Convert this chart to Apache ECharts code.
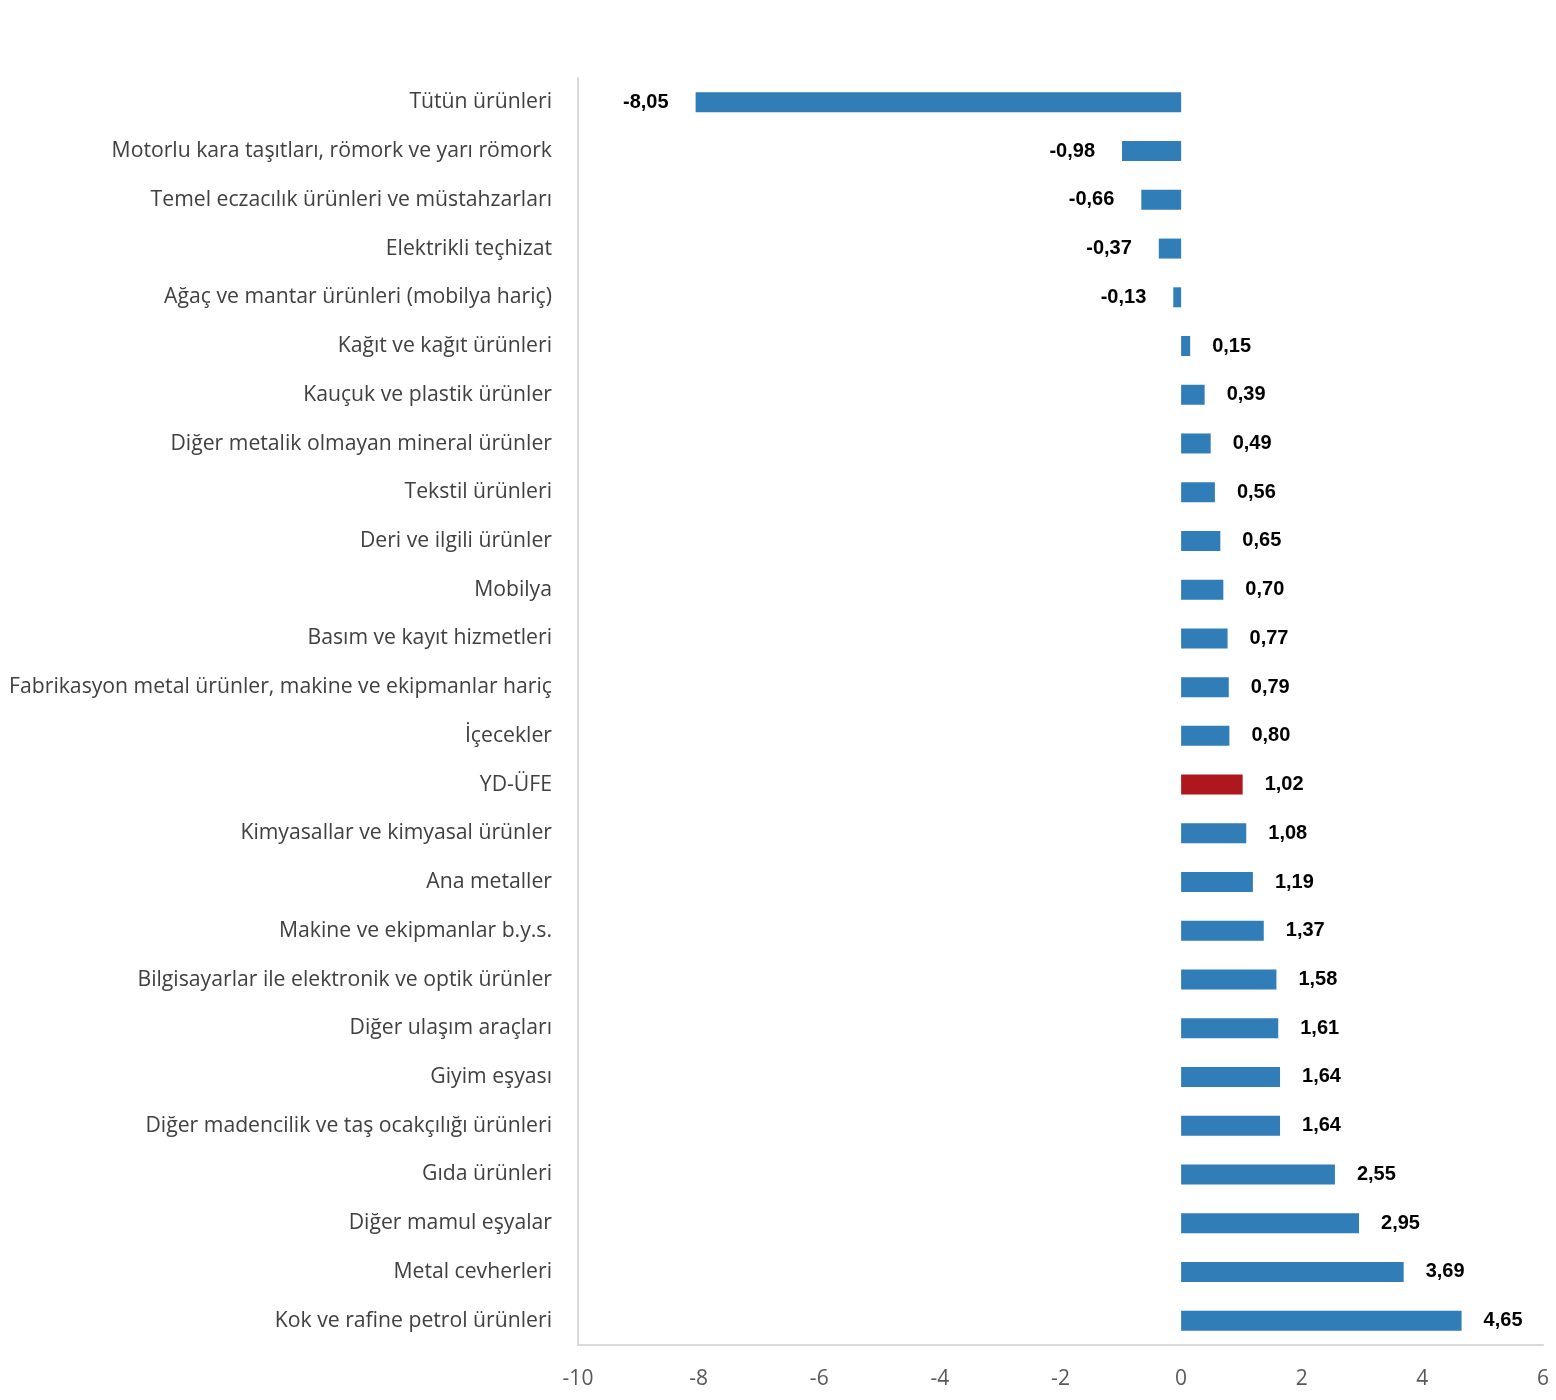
<!DOCTYPE html>
<html><head><meta charset="utf-8">
<script src="https://cdn.jsdelivr.net/npm/echarts@6/dist/echarts.min.js"></script>
<style>html,body{margin:0;padding:0;background:#fff}#c{width:1556px;height:1400px}</style>
</head><body><div id="c"></div>
<script>
const categories = [
  "Tütün ürünleri",
  "Motorlu kara taşıtları, römork ve yarı römork",
  "Temel eczacılık ürünleri ve müstahzarları",
  "Elektrikli teçhizat",
  "Ağaç ve mantar ürünleri (mobilya hariç)",
  "Kağıt ve kağıt ürünleri",
  "Kauçuk ve plastik ürünler",
  "Diğer metalik olmayan mineral ürünler",
  "Tekstil ürünleri",
  "Deri ve ilgili ürünler",
  "Mobilya",
  "Basım ve kayıt hizmetleri",
  "Fabrikasyon metal ürünler, makine ve ekipmanlar hariç",
  "İçecekler",
  "YD-ÜFE",
  "Kimyasallar ve kimyasal ürünler",
  "Ana metaller",
  "Makine ve ekipmanlar b.y.s.",
  "Bilgisayarlar ile elektronik ve optik ürünler",
  "Diğer ulaşım araçları",
  "Giyim eşyası",
  "Diğer madencilik ve taş ocakçılığı ürünleri",
  "Gıda ürünleri",
  "Diğer mamul eşyalar",
  "Metal cevherleri",
  "Kok ve rafine petrol ürünleri"
];
const values = [-8.05,-0.98,-0.66,-0.37,-0.13,0.15,0.39,0.49,0.56,0.65,0.70,0.77,0.79,0.80,1.02,1.08,1.19,1.37,1.58,1.61,1.64,1.64,2.55,2.95,3.69,4.65];
const highlightCategory = "YD-ÜFE";
const xTicks = {min:-10, max:6, interval:2};

const blue = '#317DB8', red = '#AD171D';
const data = values.map((v,i)=>({
  value:v,
  itemStyle:{color: categories[i]===highlightCategory ? red : blue},
  label:{position: v<0 ? 'left' : 'right', distance: v<0 ? 27 : 22}
}));

const chart = echarts.init(document.getElementById('c'));
chart.setOption({
  animation:false,
  grid:{left:578, right:13, top:78, bottom:55, containLabel:false},
  xAxis:{
    type:'value', min:xTicks.min, max:xTicks.max, interval:xTicks.interval,
    splitLine:{show:false},
    axisLine:{show:true, onZero:false, lineStyle:{color:'#D9D9D9', width:2}},
    axisTick:{show:false},
    axisLabel:{color:'#595959', fontSize:21, fontFamily:'Open Sans', margin:24}
  },
  yAxis:{
    type:'category', data:categories, inverse:true,
    axisLine:{show:true, onZero:false, lineStyle:{color:'#D9D9D9', width:2}},
    axisTick:{show:false},
    axisLabel:{color:'#404040', fontSize:21.2, fontFamily:'Open Sans', margin:26}
  },
  series:[{
    type:'bar', data:data, barWidth:20,
    label:{show:true, color:'#000', fontSize:20, fontWeight:'bold',
      fontFamily:'"Liberation Sans Narrow", "Liberation Sans", Arial',
      formatter:p=>p.value.toFixed(2).replace('.', ',')}
  }]
});
</script></body></html>
